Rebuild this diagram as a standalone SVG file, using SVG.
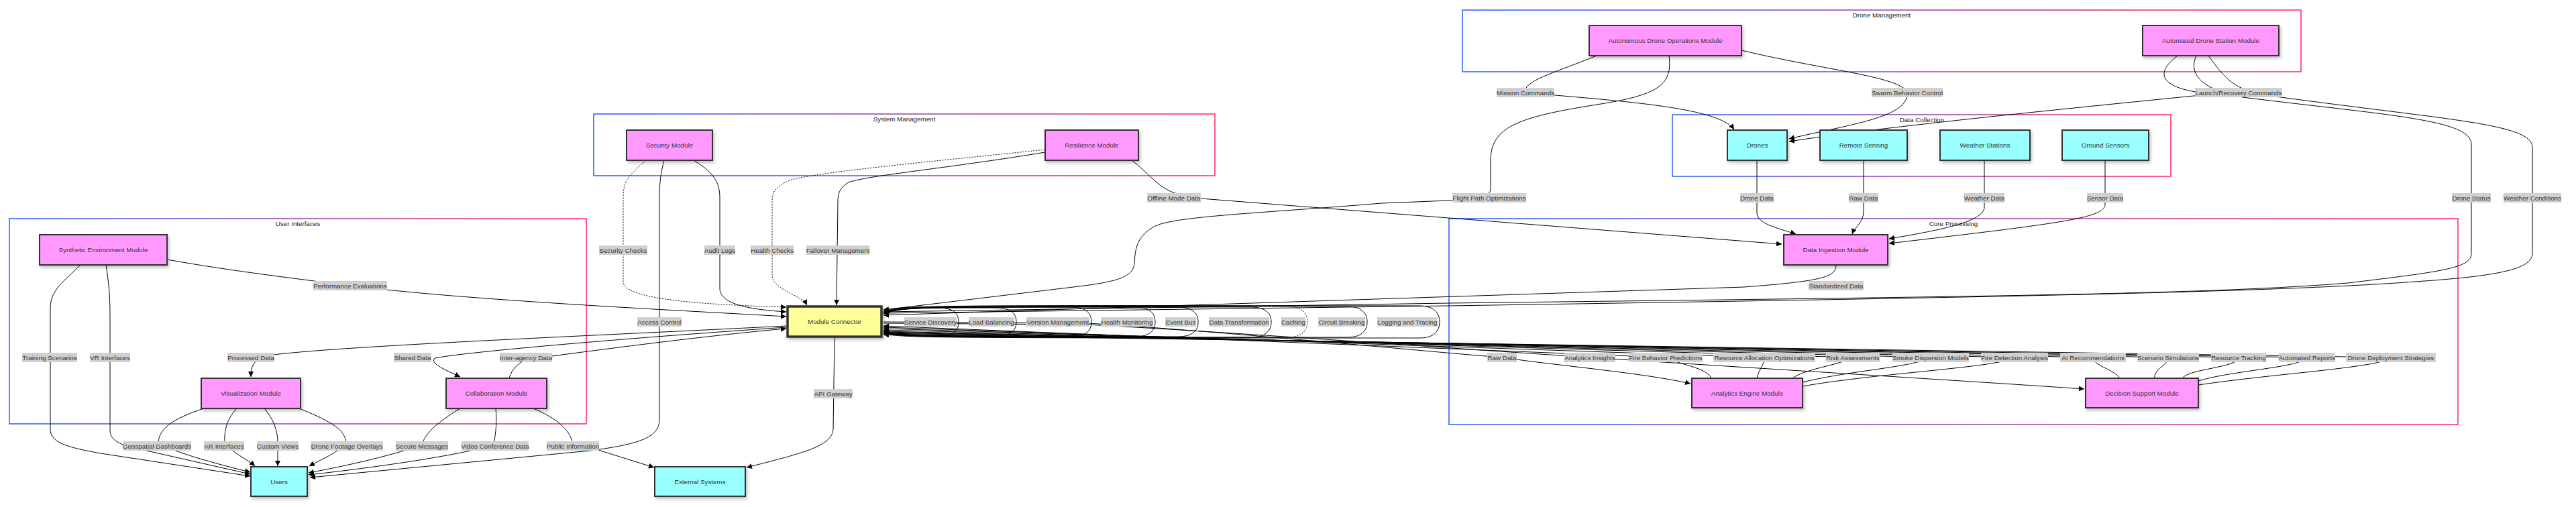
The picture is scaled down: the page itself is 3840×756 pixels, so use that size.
<svg xmlns="http://www.w3.org/2000/svg" width="3840" height="756" viewBox="0 0 3840 756">
<style>
text{font-family:"Liberation Sans",Arial,sans-serif;font-size:9.8px;fill:#333;text-anchor:middle}
.cl{fill:#fff;stroke:url(#cg);stroke-width:1.6}
.ct{fill:#222}
.node rect{stroke:#333;stroke-width:2;filter:url(#sh)}
.mag rect{fill:#ff99ff}
.cyan rect{fill:#99ffff}
.yel rect{fill:#ffff99;stroke-width:3.5}
.e{fill:none;stroke:#000;stroke-width:1;marker-end:url(#ah)}
.d{stroke-dasharray:2 2}
.lb rect{fill:#d0d0d0}
</style>
<defs>
<linearGradient id="cg" x1="0" y1="0" x2="1" y2="0"><stop offset="0" stop-color="#3366ff"/><stop offset="1" stop-color="#ff3366"/></linearGradient>
<filter id="sh" x="-10%" y="-10%" width="130%" height="140%"><feDropShadow dx="2" dy="3" stdDeviation="2" flood-color="#000" flood-opacity="0.25"/></filter>
<marker id="ah" viewBox="0 0 10 10" refX="10" refY="5" markerWidth="8" markerHeight="8" markerUnits="userSpaceOnUse" orient="auto"><path d="M0,0 L10,5 L0,10 z" fill="#000"/></marker>
</defs>
<rect width="3840" height="756" fill="#fff"/>

<g id="clusters">
<g id="c_drone"><rect class="cl" x="2180" y="15" width="1250" height="92"/><text class="ct" x="2805" y="26">Drone Management</text></g>
<g id="c_data"><rect class="cl" x="2493" y="171" width="743" height="92"/><text class="ct" x="2865" y="182">Data Collection</text></g>
<g id="c_sys"><rect class="cl" x="885" y="170" width="926" height="92"/><text class="ct" x="1348" y="181">System Management</text></g>
<g id="c_ui"><rect class="cl" x="14" y="326" width="860" height="306"/><text class="ct" x="444" y="337">User Interfaces</text></g>
<g id="c_core"><rect class="cl" x="2160" y="326" width="1504" height="307"/><text class="ct" x="2912" y="337">Core Processing</text></g>
</g>

<g id="connectors">
<path class="e" d="M2380,83 C2320,108 2270,120 2274,138 C2400,150 2560,158 2585,193"/>
<path class="e" d="M2596,75 C2720,105 2843,115 2843,140 C2843,175 2760,185 2667,207"/>
<path class="e" d="M3246,83 C3200,118 3240,136 3300,140 C3050,165 2800,190 2667,211"/>
<path class="e" d="M3274,83 C3258,118 3300,138 3343,145 C3560,172 3684,178 3684,215 L3684,378 C3684,400 3640,405 3500,422 C3300,438 3000,442 2160,452 L1317,465"/>
<path class="e" d="M3292,83 C3318,118 3330,138 3400,145 C3660,180 3775,185 3775,220 L3775,378 C3775,402 3720,412 3600,420 C3400,435 3000,443 2160,456 L1317,467"/>
<path class="e" d="M2488,83 C2494,128 2470,142 2380,156 C2260,175 2222,190 2222,240 L2222,282 C2222,293 2200,297 2160,299 L2060,303 C1880,318 1755,322 1722,337 C1694,352 1692,372 1691,393 C1689,412 1670,420 1600,428 L1317,462"/>
<path class="e" d="M1687,239 C1725,268 1728,290 1790,296 L2656,364"/>
<path class="e" d="M2619,239 L2619,318 C2620,334 2650,340 2677,349"/>
<path class="e" d="M2778,239 L2778,315 C2778,332 2765,338 2761,349"/>
<path class="e" d="M2958,239 L2958,310 C2955,330 2900,342 2816,356"/>
<path class="e" d="M3138,239 L3138,305 C3136,325 3080,332 2816,363"/>
<path class="e" d="M2737,395 C2737,413 2718,419 2600,428 L1317,470"/>
<path class="e d" d="M963,239 C945,256 929,265 929,292 L929,420 C929,446 1040,454 1172,458"/>
<path class="e" d="M990,239 C985,258 983,270 983,300 L983,625 C983,652 955,662 880,672 L462,712"/>
<path class="e" d="M1034,239 C1062,256 1073,270 1073,295 L1073,430 C1073,452 1110,461 1172,465"/>
<path class="e d" d="M1558,223 C1400,240 1230,255 1180,268 C1156,277 1151,286 1151,300 L1151,410 C1151,432 1195,440 1203,455"/>
<path class="e" d="M1558,227 C1420,250 1290,262 1265,272 C1252,280 1249,288 1249,300 L1247,455"/>
<path class="e" d="M249,387 C350,405 440,415 522,426 C700,448 1000,462 1172,472"/>
<path class="e" d="M1172,486 C900,500 500,516 400,530 C378,536 374,545 374,562"/>
<path class="e" d="M1172,488 C950,503 700,524 648,534 C640,542 665,552 686,562"/>
<path class="e" d="M759,564 C764,546 778,538 792,533 L823,531 C950,514 1080,498 1172,490"/>
<path class="e" d="M120,395 C95,420 75,432 75,460 L75,640 C75,660 100,667 150,676 L373,710"/>
<path class="e" d="M158,395 C162,420 164,440 164,470 L164,642 C164,655 176,661 192,666 L373,707"/>
<path class="e" d="M304,609 C265,622 237,636 236,660 C255,672 300,686 373,704"/>
<path class="e" d="M353,609 C338,625 334,642 335,660 C345,675 368,684 380,695"/>
<path class="e" d="M394,609 C408,625 414,642 414,660 L414,695"/>
<path class="e" d="M448,610 C498,630 514,642 516,660 C505,675 478,685 461,695"/>
<path class="e" d="M686,609 C652,630 635,645 629,662 C600,676 510,696 460,705"/>
<path class="e" d="M739,609 C741,630 739,646 736,662 C700,677 560,697 460,708"/>
<path class="e" d="M795,609 C832,625 852,642 854,665 C870,668 885,670 895,672 L975,697"/>
<path class="e" d="M1244,502 L1242,640 C1240,665 1200,675 1113,697"/>
<path class="e" d="M1317,480 L1620,482 C1800,492 2100,522 2239,533 C2320,545 2450,556 2520,572"/>
<path class="e" d="M1317,482 L1620,484 C1850,496 2200,522 2370,533 C2600,548 2900,566 3107,580"/>
<path class="e" d="M2551,564 C2545,548 2500,543 2483,533 L1317,486"/>
<path class="e" d="M2619,564 C2622,550 2630,545 2630,533 L1317,488"/>
<path class="e" d="M2672,564 C2690,550 2740,545 2762,533 L1317,490"/>
<path class="e" d="M2687,570 C2760,552 2850,548 2878,533 L1317,492"/>
<path class="e" d="M2687,576 C2800,556 2980,548 3003,533 L1317,494"/>
<path class="e" d="M3160,564 C3150,550 3120,545 3120,533 L1317,495"/>
<path class="e" d="M3212,564 C3210,550 3232,545 3232,533 L1317,496"/>
<path class="e" d="M3253,564 C3262,550 3337,548 3337,533 L1317,497"/>
<path class="e" d="M3277,568 C3330,552 3430,548 3439,533 L1317,498"/>
<path class="e" d="M3277,574 C3400,556 3550,548 3564,533 L1317,499"/>
<path class="e" d="M1317,468 C1340,459 1370,459 1399,459 C1424,459 1429,470 1429,480 C1429,490 1424,501 1399,501 C1370,501 1340,501 1317,493"/>
<path class="e" d="M1317,468 C1340,459 1370,459 1485,459 C1510,459 1515,470 1515,480 C1515,490 1510,501 1485,501 C1370,501 1340,501 1317,493"/>
<path class="e" d="M1317,467 C1340,458 1370,458 1597,458 C1622,458 1627,470 1627,480 C1627,490 1622,502 1597,502 C1370,502 1340,502 1317,494"/>
<path class="e" d="M1317,467 C1340,458 1370,458 1692,458 C1717,458 1722,470 1722,480 C1722,490 1717,502 1692,502 C1370,502 1340,502 1317,494"/>
<path class="e" d="M1317,466 C1340,457 1370,457 1756,458 C1781,458 1786,470 1786,480 C1786,490 1781,502 1756,502 C1370,502 1340,502 1317,495"/>
<path class="e" d="M1317,466 C1340,457 1370,457 1865,458 C1890,458 1895,470 1895,480 C1895,490 1890,503 1865,503 C1370,503 1340,503 1317,495"/>
<path class="e d" d="M1317,465 C1340,456 1370,456 1919,457 C1944,457 1949,470 1949,480 C1949,490 1944,503 1919,503 C1370,503 1340,503 1317,496"/>
<path class="e" d="M1317,465 C1340,456 1370,456 2008,457 C2033,457 2038,470 2038,480 C2038,490 2033,503 2008,503 C1370,503 1340,503 1317,496"/>
<path class="e" d="M1317,464 C1340,455 1370,455 2116,456 C2141,456 2146,470 2146,480 C2146,490 2141,504 2116,504 C1370,504 1340,504 1317,497"/>
<g id="edge-labels" class="lb">
<rect x="2231" y="131" width="86" height="14"/><text x="2274" y="141.5">Mission Commands</text>
<rect x="2790" y="131" width="106" height="14"/><text x="2843" y="141.5">Swarm Behavior Control</text>
<rect x="3272" y="131" width="130" height="14"/><text x="3337" y="141.5">Launch/Recovery Commands</text>
<rect x="2165" y="288" width="110" height="14"/><text x="2220" y="298.5">Flight Path Optimizations</text>
<rect x="2594" y="288" width="50" height="14"/><text x="2619" y="298.5">Drone Data</text>
<rect x="2756" y="288" width="44" height="14"/><text x="2778" y="298.5">Raw Data</text>
<rect x="2928" y="288" width="60" height="14"/><text x="2958" y="298.5">Weather Data</text>
<rect x="3111" y="288" width="54" height="14"/><text x="3138" y="298.5">Sensor Data</text>
<rect x="3655" y="288" width="58" height="14"/><text x="3684" y="298.5">Drone Status</text>
<rect x="3732" y="288" width="86" height="14"/><text x="3775" y="298.5">Weather Conditions</text>
<rect x="1710" y="288" width="80" height="14"/><text x="1750" y="298.5">Offline Mode Data</text>
<rect x="893" y="366" width="72" height="14"/><text x="929" y="376.5">Security Checks</text>
<rect x="1050" y="366" width="46" height="14"/><text x="1073" y="376.5">Audit Logs</text>
<rect x="1119" y="366" width="64" height="14"/><text x="1151" y="376.5">Health Checks</text>
<rect x="1202" y="366" width="94" height="14"/><text x="1249" y="376.5">Failover Management</text>
<rect x="467" y="419" width="110" height="14"/><text x="522" y="429.5">Performance Evaluations</text>
<rect x="2696" y="419" width="82" height="14"/><text x="2737" y="429.5">Standardized Data</text>
<rect x="950" y="473" width="66" height="14"/><text x="983" y="483.5">Access Control</text>
<rect x="1213" y="580" width="58" height="14"/><text x="1242" y="590.5">API Gateway</text>
<rect x="1348" y="473" width="78" height="14"/><text x="1387" y="483.5">Service Discovery</text>
<rect x="1444" y="473" width="68" height="14"/><text x="1478" y="483.5">Load Balancing</text>
<rect x="1530" y="473" width="94" height="14"/><text x="1577" y="483.5">Version Management</text>
<rect x="1641" y="473" width="78" height="14"/><text x="1680" y="483.5">Health Monitoring</text>
<rect x="1737" y="473" width="46" height="14"/><text x="1760" y="483.5">Event Bus</text>
<rect x="1802" y="473" width="90" height="14"/><text x="1847" y="483.5">Data Transformation</text>
<rect x="1910" y="473" width="36" height="14"/><text x="1928" y="483.5">Caching</text>
<rect x="1965" y="473" width="70" height="14"/><text x="2000" y="483.5">Circuit Breaking</text>
<rect x="2053" y="473" width="90" height="14"/><text x="2098" y="483.5">Logging and Tracing</text>
<rect x="2217" y="526" width="44" height="14"/><text x="2239" y="536.5">Raw Data</text>
<rect x="2332" y="526" width="76" height="14"/><text x="2370" y="536.5">Analytics Insights</text>
<rect x="2428" y="526" width="110" height="14"/><text x="2483" y="536.5">Fire Behavior Predictions</text>
<rect x="2554" y="526" width="152" height="14"/><text x="2630" y="536.5">Resource Allocation Optimizations</text>
<rect x="2722" y="526" width="80" height="14"/><text x="2762" y="536.5">Risk Assessments</text>
<rect x="2821" y="526" width="114" height="14"/><text x="2878" y="536.5">Smoke Dispersion Models</text>
<rect x="2953" y="526" width="100" height="14"/><text x="3003" y="536.5">Fire Detection Analysis</text>
<rect x="3071" y="526" width="98" height="14"/><text x="3120" y="536.5">AI Recommendations</text>
<rect x="3186" y="526" width="92" height="14"/><text x="3232" y="536.5">Scenario Simulations</text>
<rect x="3296" y="526" width="82" height="14"/><text x="3337" y="536.5">Resource Tracking</text>
<rect x="3397" y="526" width="84" height="14"/><text x="3439" y="536.5">Automated Reports</text>
<rect x="3497" y="526" width="134" height="14"/><text x="3564" y="536.5">Drone Deployment Strategies</text>
<rect x="33" y="526" width="82" height="14"/><text x="74" y="536.5">Training Scenarios</text>
<rect x="134" y="526" width="60" height="14"/><text x="164" y="536.5">VR Interfaces</text>
<rect x="339" y="526" width="70" height="14"/><text x="374" y="536.5">Processed Data</text>
<rect x="587" y="526" width="56" height="14"/><text x="615" y="536.5">Shared Data</text>
<rect x="745" y="526" width="78" height="14"/><text x="784" y="536.5">Inter-agency Data</text>
<rect x="183" y="658" width="102" height="14"/><text x="234" y="668.5">Geospatial Dashboards</text>
<rect x="304" y="658" width="60" height="14"/><text x="334" y="668.5">AR Interfaces</text>
<rect x="383" y="658" width="62" height="14"/><text x="414" y="668.5">Custom Views</text>
<rect x="463" y="658" width="108" height="14"/><text x="517" y="668.5">Drone Footage Overlays</text>
<rect x="590" y="658" width="78" height="14"/><text x="629" y="668.5">Secure Messages</text>
<rect x="688" y="658" width="100" height="14"/><text x="738" y="668.5">Video Conference Data</text>
<rect x="815" y="658" width="78" height="14"/><text x="854" y="668.5">Public Information</text>
</g>
</g>

<g id="ado" class="node mag"><rect x="2369" y="38" width="227" height="45"/><text x="2482.5" y="64">Autonomous Drone Operations Module</text></g>
<g id="ads" class="node mag"><rect x="3194" y="38" width="203" height="45"/><text x="3295.5" y="64">Automated Drone Station Module</text></g>
<g id="drones" class="node cyan"><rect x="2575" y="194" width="89" height="45"/><text x="2619.5" y="220">Drones</text></g>
<g id="remote" class="node cyan"><rect x="2713" y="194" width="130" height="45"/><text x="2778" y="220">Remote Sensing</text></g>
<g id="weather" class="node cyan"><rect x="2892" y="194" width="134" height="45"/><text x="2959" y="220">Weather Stations</text></g>
<g id="ground" class="node cyan"><rect x="3074" y="194" width="129" height="45"/><text x="3138.5" y="220">Ground Sensors</text></g>
<g id="security" class="node mag"><rect x="934" y="194" width="128" height="45"/><text x="998" y="220">Security Module</text></g>
<g id="resilience" class="node mag"><rect x="1558" y="194" width="139" height="45"/><text x="1627.5" y="220">Resilience Module</text></g>
<g id="synthetic" class="node mag"><rect x="59" y="350" width="190" height="45"/><text x="154" y="376">Synthetic Environment Module</text></g>
<g id="ingestion" class="node mag"><rect x="2659" y="350" width="155" height="45"/><text x="2736.5" y="376">Data Ingestion Module</text></g>
<g id="connector" class="node yel"><rect x="1174" y="457" width="140" height="45"/><text x="1244" y="483">Module Connector</text></g>
<g id="visual" class="node mag"><rect x="300" y="564" width="148" height="45"/><text x="374" y="590">Visualization Module</text></g>
<g id="collab" class="node mag"><rect x="665" y="564" width="150" height="45"/><text x="740" y="590">Collaboration Module</text></g>
<g id="analytics" class="node mag"><rect x="2522" y="564" width="165" height="44"/><text x="2604.5" y="589.5">Analytics Engine Module</text></g>
<g id="decision" class="node mag"><rect x="3109" y="564" width="168" height="44"/><text x="3193" y="589.5">Decision Support Module</text></g>
<g id="users" class="node cyan"><rect x="374" y="696" width="84" height="44"/><text x="416" y="721.5">Users</text></g>
<g id="external" class="node cyan"><rect x="976" y="696" width="135" height="44"/><text x="1043.5" y="721.5">External Systems</text></g>
</svg>
